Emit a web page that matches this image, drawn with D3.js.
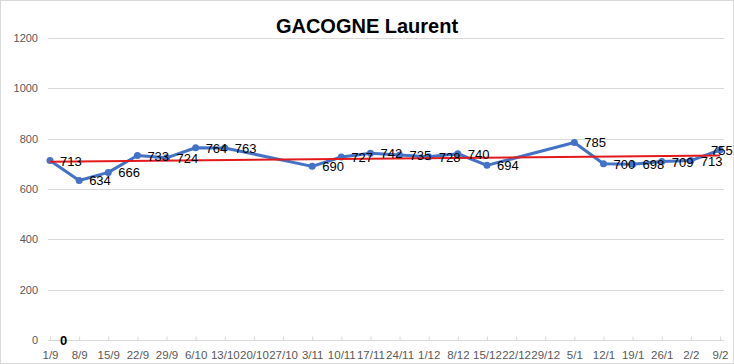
<!DOCTYPE html>
<html>
<head>
<meta charset="utf-8">
<script src="https://cdn.jsdelivr.net/npm/d3@7"></script>
<style>
  body { margin: 0; background: #fff; }
  text { font-family: "Liberation Sans", Arial, sans-serif; }
</style>
</head>
<body>
<div id="vizContainer"></div>
<script>
let w = 734;
let h = 364;

// data
let categories = ["1/9","8/9","15/9","22/9","29/9","6/10","13/10","20/10","27/10","3/11","10/11","17/11","24/11","1/12","8/12","15/12","22/12","29/12","5/1","12/1","19/1","26/1","2/2","9/2"];
let values = [713, 634, 666, 733, 724, 764, 763, null, null, 690, 727, 742, 735, 728, 740, 694, null, null, 785, 700, 698, 709, 713, 755];
let zeroSeries = [0]; // stray "0" label sitting on the axis
let yTicks = [0, 200, 400, 600, 800, 1000, 1200];

let viz = d3.select("#vizContainer").append("svg")
    .attr("width", w)
    .attr("height", h)
    .style("display", "block")
;

// chart border
viz.append("rect")
  .attr("x", 0.5).attr("y", 0.5)
  .attr("width", w - 1).attr("height", h - 1)
  .attr("fill", "#fff")
  .attr("stroke", "#d9d9d9")
;

let xScale = d3.scalePoint().domain(categories).range([50, 720]);
let yScale = d3.scaleLinear().domain([0, 1200]).range([340, 38]);

// gridlines
viz.append("g").selectAll("line").data(yTicks.filter(d => d > 0)).enter()
  .append("line")
    .attr("x1", 48).attr("x2", 724)
    .attr("y1", d => Math.round(yScale(d)) + 0.5)
    .attr("y2", d => Math.round(yScale(d)) + 0.5)
    .attr("stroke", "#d9d9d9")
;

// y axis labels
let yAxis = d3.axisLeft(yScale).tickValues(yTicks).tickFormat(d3.format("d")).tickSize(0).tickPadding(0);
let yAxisGroup = viz.append("g")
    .attr("transform", "translate(38,0)")
    .call(yAxis)
;
yAxisGroup.select("path").attr("display", "none");
yAxisGroup.selectAll("text")
    .attr("fill", "#595959")
    .style("font-size", "11px")
    .style("font-family", "Liberation Sans, Arial, sans-serif")
;

// x axis
let xAxis = d3.axisBottom(xScale).tickSize(-4).tickPadding(10);
let xAxisGroup = viz.append("g")
    .attr("transform", "translate(0,340.5)")
    .call(xAxis)
;
xAxisGroup.select("path")
    .attr("d", "M48,0H724")
    .attr("stroke", "#d9d9d9")
;
xAxisGroup.selectAll("line").attr("stroke", "#d9d9d9");
xAxisGroup.selectAll("text")
    .attr("fill", "#595959")
    .style("font-size", "11.5px")
    .style("font-family", "Liberation Sans, Arial, sans-serif")
;

// title
viz.append("text")
  .attr("x", 367).attr("y", 33)
  .attr("text-anchor", "middle")
  .attr("fill", "#000")
  .style("font-size", "20px")
  .style("font-weight", "bold")
  .text("GACOGNE Laurent")
;

let points = categories.map((c, i) => ({cat: c, i: i, v: values[i]})).filter(d => d.v != null);

// blue series (gaps connected)
let line = d3.line().x(d => xScale(d.cat)).y(d => yScale(d.v));
viz.append("path")
  .datum(points)
  .attr("d", line)
  .attr("fill", "none")
  .attr("stroke", "#4472c4")
  .attr("stroke-width", 3)
  .attr("stroke-linejoin", "round")
;
viz.append("g").selectAll("circle").data(points).enter()
  .append("circle")
    .attr("cx", d => xScale(d.cat))
    .attr("cy", d => yScale(d.v))
    .attr("r", 3.5)
    .attr("fill", "#4472c4")
;

// linear trend line, least squares over the non-empty points
let mx = d3.mean(points, d => d.i);
let my = d3.mean(points, d => d.v);
let slope = d3.sum(points, d => (d.i - mx) * (d.v - my)) / d3.sum(points, d => (d.i - mx) * (d.i - mx));
let intercept = my - slope * mx;
let iScale = d3.scaleLinear().domain([0, categories.length - 1]).range(xScale.range());
viz.append("line")
  .attr("x1", iScale(0)).attr("y1", yScale(intercept))
  .attr("x2", iScale(categories.length - 1)).attr("y2", yScale(intercept + slope * (categories.length - 1)))
  .attr("stroke", "#e31a1c")
  .attr("stroke-width", 2)
;

// data labels, placed right of the point
viz.append("g").selectAll("text").data(points).enter()
  .append("text")
    .attr("x", d => Math.min(xScale(d.cat) + 10, 711))
    .attr("y", d => yScale(d.v) + 5)
    .attr("fill", "#000")
    .style("font-size", "13px")
    .text(d => d.v)
;

viz.append("g").selectAll("text").data(zeroSeries).enter()
  .append("text")
    .attr("x", (d, i) => xScale(categories[i]) + 10)
    .attr("y", d => yScale(d) + 5)
    .attr("fill", "#000")
    .style("font-size", "13px")
    .style("font-weight", "bold")
    .text(d => d)
;
</script>
</body>
</html>
